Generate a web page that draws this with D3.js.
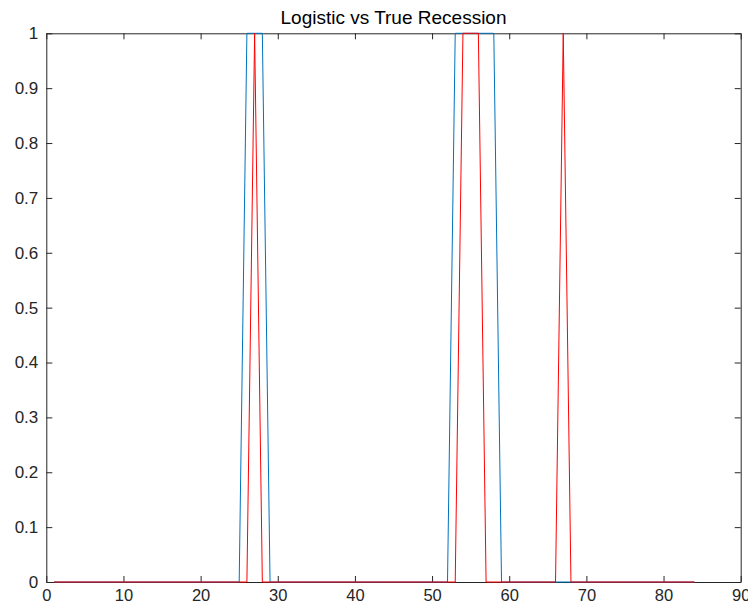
<!DOCTYPE html>
<html><head><meta charset="utf-8">
<script src="https://cdn.jsdelivr.net/npm/d3@7"></script>
<style>body{margin:0;background:#fff}svg{display:block}</style>
</head><body>
<script>
const xIndex = d3.range(1, 85);
const logisticOnes = [26, 27, 28, 53, 54, 55, 56, 57, 58];
const trueOnes = [27, 54, 55, 56, 67];
const logistic = xIndex.map(i => logisticOnes.includes(i) ? 1 : 0);
const trueRec = xIndex.map(i => trueOnes.includes(i) ? 1 : 0);
const xTicks = [0, 10, 20, 30, 40, 50, 60, 70, 80, 90];
const yTicks = [0, 0.1, 0.2, 0.3, 0.4, 0.5, 0.6, 0.7, 0.8, 0.9, 1];
const title = "Logistic vs True Recession";

const W = 748, H = 605;
const m = {l: 46.3, r: 748 - 740.7, t: 33.3, b: 605 - 582};
const font = "Helvetica, 'Liberation Sans', Arial, sans-serif";
const svg = d3.select("body").append("svg").attr("width", W).attr("height", H)
  .style("font-family", font);
const x = d3.scaleLinear().domain([0, 90]).range([m.l, W - m.r]);
const y = d3.scaleLinear().domain([0, 1]).range([H - m.b, m.t]);
const ac = "#262626";

const tl = 6;
const gx = svg.append("g").attr("transform", `translate(0,${H - m.b})`)
  .call(d3.axisBottom(x).tickValues(xTicks).tickSizeInner(-tl).tickSizeOuter(0).tickPadding(7));
const gxt = svg.append("g").attr("transform", `translate(0,${m.t})`)
  .call(d3.axisTop(x).tickValues(xTicks).tickSizeInner(-tl).tickSizeOuter(0).tickFormat(""));
const gy = svg.append("g").attr("transform", `translate(${m.l},0)`)
  .call(d3.axisLeft(y).tickValues(yTicks).tickSizeInner(-tl).tickSizeOuter(0).tickPadding(8).tickFormat(d3.format("~g")));
const gyr = svg.append("g").attr("transform", `translate(${W - m.r},0)`)
  .call(d3.axisRight(y).tickValues(yTicks).tickSizeInner(-tl).tickSizeOuter(0).tickFormat(""));
[gx, gxt, gy, gyr].forEach(g => {
  g.selectAll("path.domain").attr("stroke", ac).attr("stroke-width", 1);
  g.selectAll("line").attr("stroke", ac).attr("stroke-width", 1);
  g.selectAll("text").attr("fill", ac).style("font-size", "17px").style("font-family", font);
});
gx.selectAll("text").style("font-size", "16.5px");

const line = d3.line().x((d, i) => x(xIndex[i])).y(d => y(d));
svg.append("path").datum(logistic).attr("d", line).attr("fill", "none")
  .attr("stroke", "#0072BD").attr("stroke-width", 1);
svg.append("path").datum(trueRec).attr("d", line).attr("fill", "none")
  .attr("stroke", "#FF0000").attr("stroke-width", 1);

svg.append("text").attr("x", (m.l + W - m.r) / 2).attr("y", 24)
  .attr("text-anchor", "middle").attr("fill", "#000").style("font-size", "19px")
  .text(title);
</script>
</body></html>
